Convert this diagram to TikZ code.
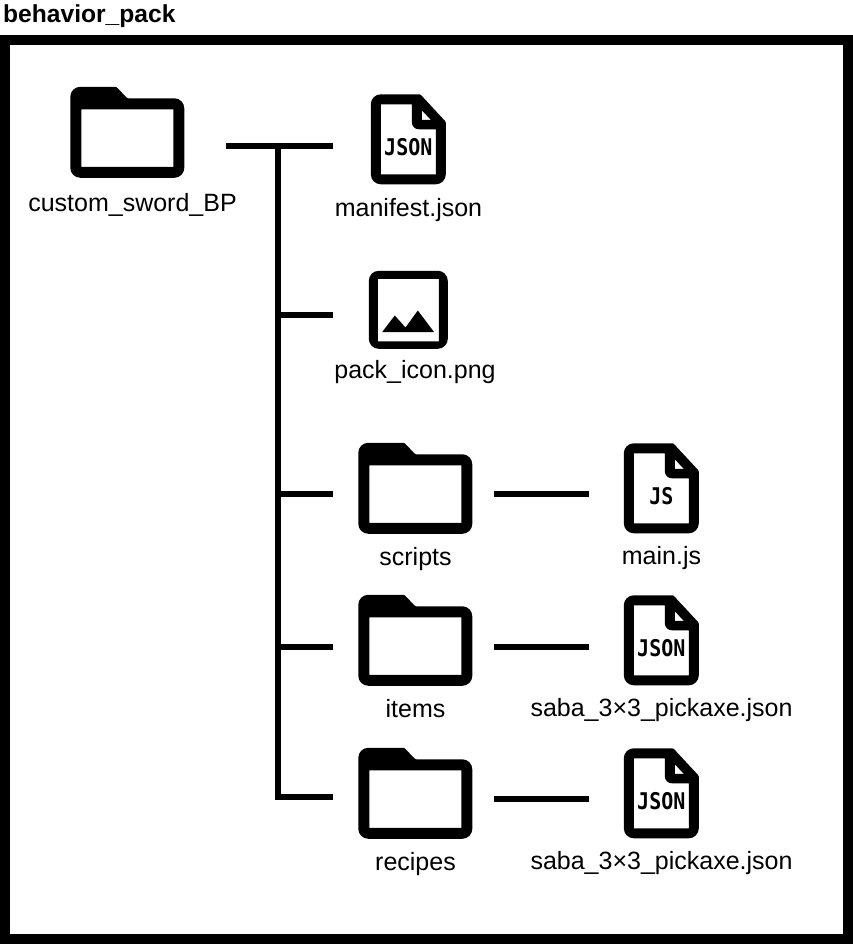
\documentclass[tikz,border=0pt]{standalone}
\usepackage{fontspec}
\setmainfont{Liberation Sans}
\newfontfamily\tagfont{DejaVu Sans Mono}
\tikzset{
    every node/.style={inner sep=0mm, font=\fontsize{25}{25}\selectfont},
    every label/.style={inner sep=0mm, text height=18pt, text depth=6pt},
    label distance=13pt,
    folderbox/.style={minimum width=114pt, minimum height=91pt},
    filebox/.style={minimum width=75pt, minimum height=90pt},
    imagebox/.style={minimum width=79pt, minimum height=78pt},
    wire/.style={line width=6pt},
    folderpic/.pic={
        \fill[even odd rule] (0,45) [rounded corners=10pt] -- (0,0) [rounded corners=1pt] -- (46,0) -- (57,11.5)
            [rounded corners=10pt] -- (114,11.5) -- (114,91) -- (0,91) -- cycle
            [sharp corners] (11,22.5) rectangle (103,80);
    },
    filepic/.pic={
        \fill[even odd rule] (0,45) [rounded corners=10pt] -- (0,0) [rounded corners=1pt] -- (49.5,0) -- (75,27.5)
            [rounded corners=10pt] -- (75,90) -- (0,90) -- cycle
            [sharp corners] (10,10) -- (41,10) [rounded corners=7pt] -- (41,35) [sharp corners] -- (65,35) -- (65,80) -- (10,80) -- cycle
            (51,16) -- (51,25.5) -- (60,25.5) -- cycle;
        \node (-tag) at (37.5,52.5) [font=\tagfont\bfseries\fontsize{20}{20}\selectfont, yscale=1.15] {#1};
    },
    imagepic/.pic={
        \fill[even odd rule] (0,39) [rounded corners=10pt] -- (0,0) -- (79,0) -- (79,78) -- (0,78) -- cycle
            [sharp corners] (9,8) rectangle (70,70.5);
        \fill (13.3,61.3) -- (26,44.7) -- (36.7,56.7) -- (49,39.7) -- (65.3,61.3) -- cycle;
    }
}

\begin{document}
\begin{tikzpicture}[x=1pt, y=-1pt]
    \useasboundingbox (0,0) rectangle (853,944);

    \node (title) at (3,23) [anchor=base west, font=\bfseries\fontsize{24.6}{24.6}\selectfont] {behavior\_pack};
    \node (frame) at (426.5,489.5) [draw, line width=10pt, minimum width=843pt, minimum height=899pt] {};

    \node (root) at (127.5,132.5) [folderbox, label={[xshift=5pt, label distance=15pt]below:custom\_sword\_BP}] {};
    \node (manifest) at (408.5,139.5) [filebox, label={[label distance=14pt]below:manifest.json}] {};
    \node (packicon) at (408.5,310) [imagebox, label={[xshift=6.5pt, label distance=11pt]below:pack\_icon.png}] {};
    \node (scripts) at (415.5,488.5) [folderbox, label=below:scripts] {};
    \node (items) at (415.5,640.5) [folderbox, label=below:items] {};
    \node (recipes) at (415.5,793.5) [folderbox, label=below:recipes] {};
    \node (mainjs) at (661.5,488.5) [filebox, label=below:main.js] {};
    \node (itemjson) at (661.5,640.5) [filebox, label=below:saba\_3×3\_pickaxe.json] {};
    \node (recipejson) at (661.5,793.5) [filebox, label=below:saba\_3×3\_pickaxe.json] {};

    \pic at (root.north west) {folderpic};
    \pic at (scripts.north west) {folderpic};
    \pic at (items.north west) {folderpic};
    \pic at (recipes.north west) {folderpic};
    \pic (manifesticon) at (manifest.north west) {filepic=JSON};
    \pic (mainicon) at (mainjs.north west) {filepic=JS};
    \pic (itemicon) at (itemjson.north west) {filepic=JSON};
    \pic (recipeicon) at (recipejson.north west) {filepic=JSON};
    \pic at (packicon.north west) {imagepic};

    % ends of the stubs
    \coordinate (rootout) at (226,146);
    \coordinate (top) at (278,146);
    \coordinate (bottom) at (278,797);
    \coordinate (manifestin) at (333,146);
    \coordinate (packj) at (278,315);
    \coordinate (packin) at (333,315);
    \coordinate (scriptsj) at (278,494);
    \coordinate (scriptsin) at (333,494);
    \coordinate (itemsj) at (278,647);
    \coordinate (itemsin) at (333,647);
    \coordinate (recipesin) at (333,797);
    \coordinate (scriptsout) at (494,494);
    \coordinate (mainin) at (589,494);
    \coordinate (itemsout) at (494,647);
    \coordinate (itemjsonin) at (589,647);
    \coordinate (recipesout) at (494,799);
    \coordinate (recipejsonin) at (589,799);

    \draw[wire] (rootout) -- (manifestin);
    \draw[wire] (top) -- (bottom) -- (recipesin);
    \draw[wire] (packj) -- (packin);
    \draw[wire] (scriptsj) -- (scriptsin);
    \draw[wire] (itemsj) -- (itemsin);
    \draw[wire] (scriptsout) -- (mainin);
    \draw[wire] (itemsout) -- (itemjsonin);
    \draw[wire] (recipesout) -- (recipejsonin);
\end{tikzpicture}
\end{document}
